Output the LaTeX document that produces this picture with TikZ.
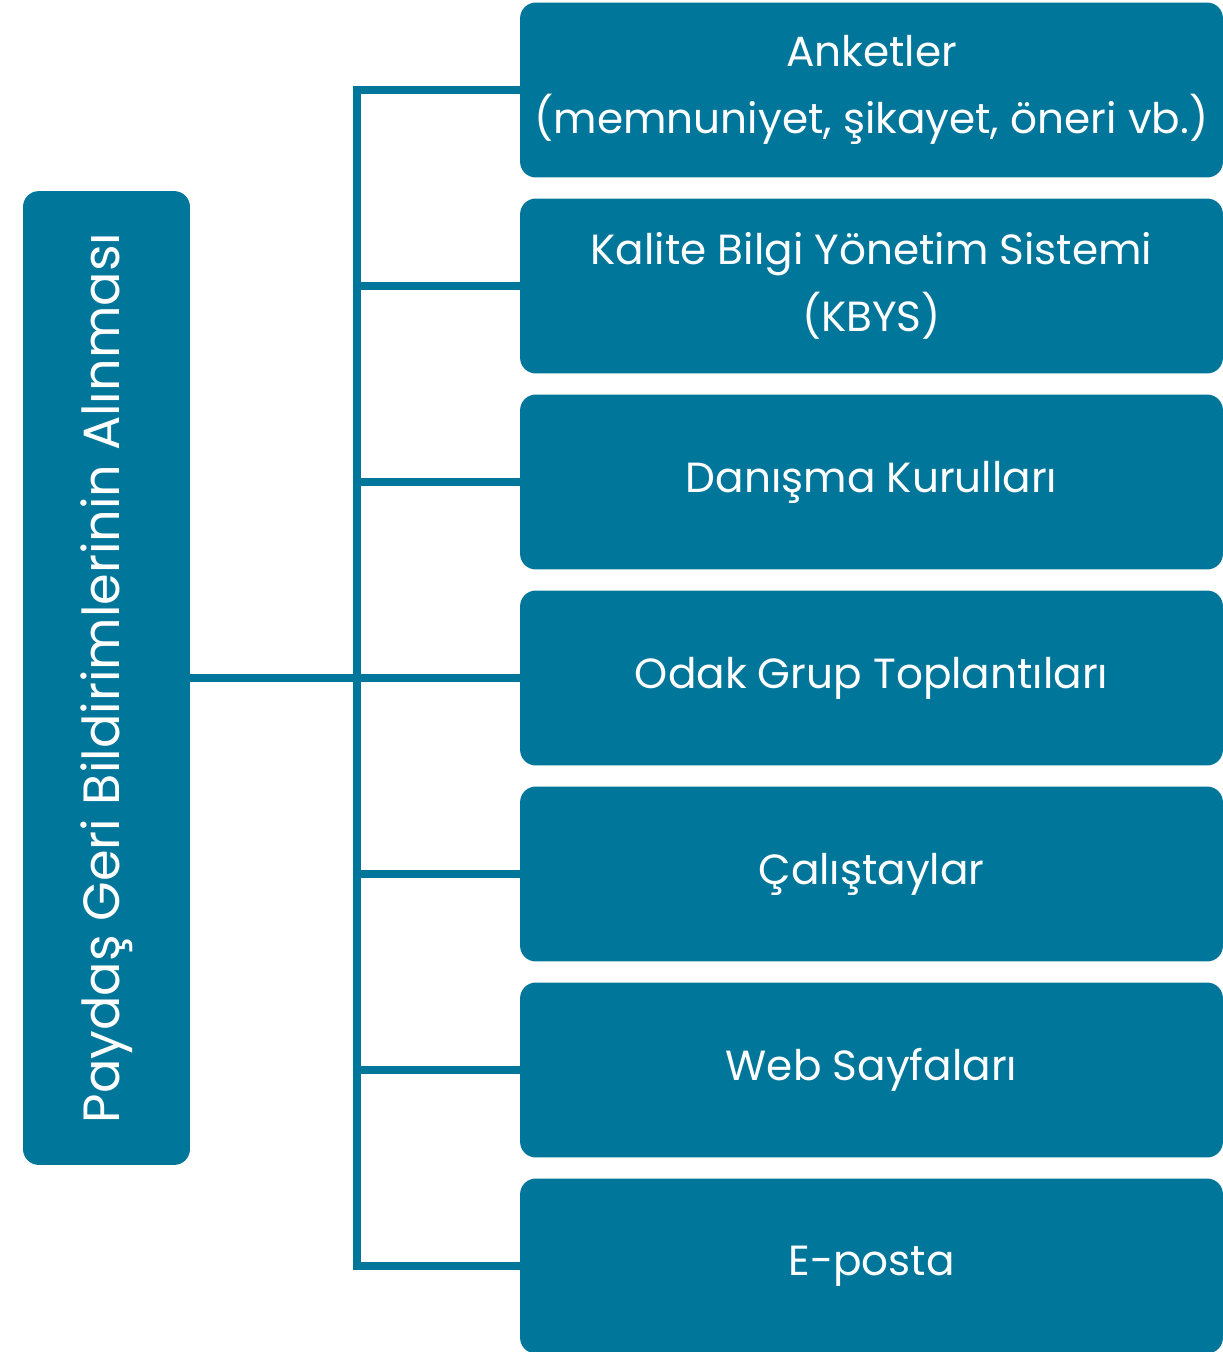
\documentclass[tikz,border=0pt]{standalone}
\usepackage{fontspec}
\usepackage{graphicx}
\setmainfont{Poppins}
\definecolor{tealbox}{RGB}{0,118,154}
\tikzset{
  box/.style={fill=tealbox,rounded corners=9pt,text=white,align=center,inner sep=0pt},
  link/.style={draw=tealbox,line width=4.5pt}
}
\begin{document}
\begin{tikzpicture}[x=0.02cm,y=-0.02cm,font=\fontsize{24}{38.5}\selectfont]
\useasboundingbox (0,0) rectangle (1223,1352);
% hub on the left
\node[box,minimum width=3.34cm,minimum height=19.48cm,font=\fontsize{29}{38}\selectfont] (hub) at (106.5,678) {\rotatebox{90}{Paydaş Geri Bildirimlerinin Alınması}};
% methods on the right
\foreach \i/\t in {1/{Anketler\\(memnuniyet, şikayet, öneri vb.)},2/{Kalite Bilgi Yönetim Sistemi\\(KBYS)},3/{Danışma Kurulları},4/{Odak Grup Toplantıları},5/{Çalıştaylar},6/{Web Sayfaları},7/{E-posta}}
  \node[box,minimum width=14.06cm,minimum height=3.5cm] (m\i) at (871.5,90+196*\i-196) {\t};
\coordinate (spine) at (357,678);
\draw[link,line cap=rect] (m1.west -| spine) -- (m7.west -| spine);
\foreach \i in {1,...,7} \draw[link] (m\i.west -| spine) -- (m\i.west);
\draw[link] (hub.east) -- (spine);
\end{tikzpicture}
\end{document}
